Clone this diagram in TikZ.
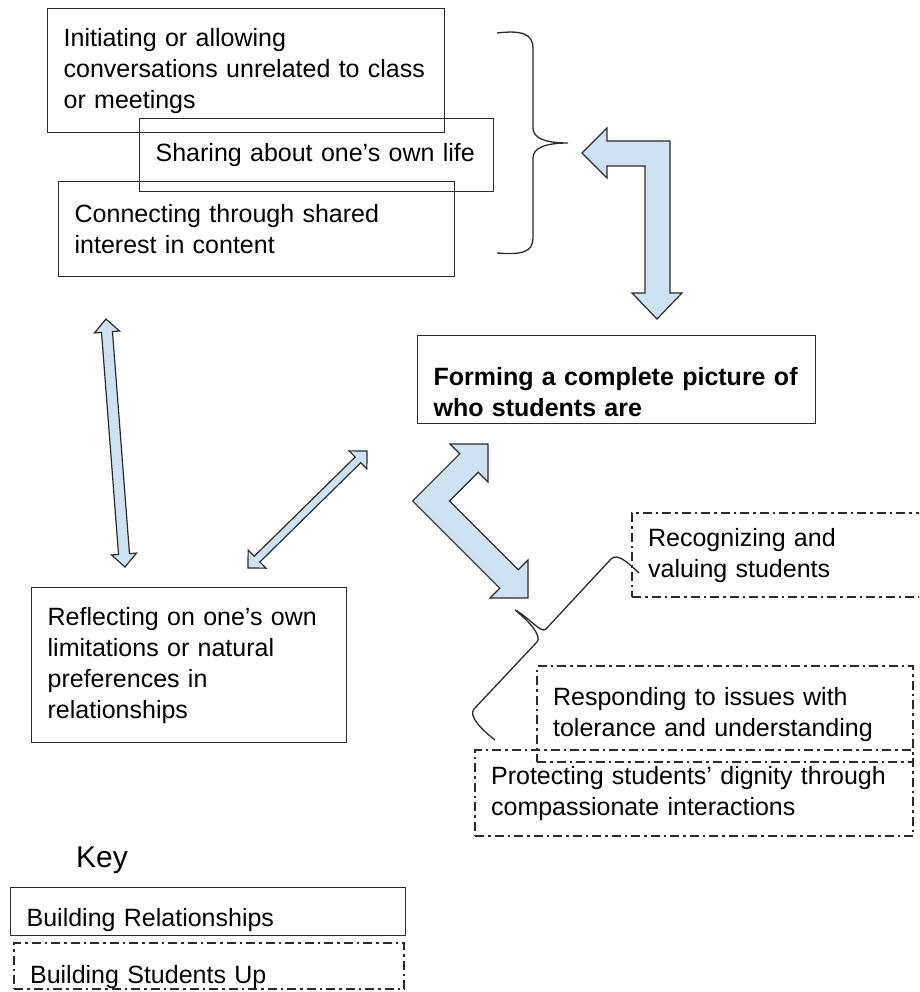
\documentclass[tikz,border=0pt]{standalone}
\usepackage{fontspec}
\setmainfont{Liberation Sans}
\usetikzlibrary{calc}

\definecolor{arrowblue}{HTML}{CFE2F3}
\definecolor{linegray}{HTML}{2B2B2B}

\newcommand{\dblarrow}[5]{% from, to, half shaft, head length, half head
	\filldraw[blockarrow] (#1)
		-- ($(#1)!#4!(#2)!#5!90:(#2)$) -- ($(#1)!#4!(#2)!#3!90:(#2)$)
		-- ($(#2)!#4!(#1)!#3!-90:(#1)$) -- ($(#2)!#4!(#1)!#5!-90:(#1)$)
		-- (#2)
		-- ($(#2)!#4!(#1)!#5!90:(#1)$) -- ($(#2)!#4!(#1)!#3!90:(#1)$)
		-- ($(#1)!#4!(#2)!#3!-90:(#2)$) -- ($(#1)!#4!(#2)!#5!-90:(#2)$) -- cycle;}

\begin{document}
\begin{tikzpicture}[x=1pt,y=-1pt,
	box/.style={anchor=north west, align=left, inner xsep=16pt, inner ysep=4pt,
		font=\fontsize{25}{31}\selectfont, draw=linegray, line width=1.3pt},
	relbox/.style={box},
	upbox/.style={box, line width=2.2pt, dash pattern=on 9pt off 4pt on 2.5pt off 4pt},
	blockarrow/.style={fill=arrowblue, draw=linegray, line width=1.2pt, line join=miter},
	bracket/.style={draw=linegray, line width=1.3pt}]
	\clip (0,0) rectangle (919,992);

	% top group
	\node[relbox, text width=365pt, minimum height=124pt] (initiate) at (47,8)
		{Initiating or allowing\\conversations unrelated to class\\or meetings};
	\node[relbox, text width=322pt, minimum height=73pt] (share) at (139,118)
		{Sharing about one’s own life};
	\node[relbox, text width=364pt, minimum height=95pt] (connect) at (58,181)
		{Connecting through shared\\interest in content};

	\draw[bracket] (497,33) .. controls (522,30) and (533,34) .. (533,48) -- (533,128)
		.. controls (533,138) and (545,143) .. (568,143)
		.. controls (545,143) and (533,148) .. (533,158) -- (533,238)
		.. controls (533,252) and (522,255) .. (497,253);

	\filldraw[blockarrow] (582,153) -- (607,128) -- (607,141) -- (670,141) -- (670,293)
		-- (682,293) -- (657,319) -- (632,293) -- (645,293) -- (645,166)
		-- (607,166) -- (607,178) -- cycle;

	% centre
	\node[relbox, text width=366pt, minimum height=88pt, text height=43pt,
		font=\fontsize{25}{31}\selectfont\bfseries] (picture) at (417,335)
		{Forming a complete picture of\\who students are};

	\node[relbox, text width=283pt, minimum height=155pt] (reflect) at (31,587)
		{Reflecting on one’s own\\limitations or natural\\preferences in\\relationships};

	\coordinate (vtop) at (106,319);
	\coordinate (vbot) at (125,567);
	\dblarrow{vtop}{vbot}{5.5pt}{13pt}{12.5pt}

	\coordinate (dlow) at (248,568);
	\coordinate (dhigh) at (367,451);
	\dblarrow{dlow}{dhigh}{4pt}{12.7pt}{12.7pt}

	\filldraw[blockarrow] (488,444) -- (488,482) -- (478.2,472.2) -- (449.4,501)
		-- (518.2,569.8) -- (528,560) -- (528,598) -- (490,598) -- (499.8,588.2)
		-- (412.6,501) -- (459.8,453.8) -- (450,444) -- cycle;

	% right group
	\node[upbox, text width=277pt, minimum height=84pt] (recognize) at (631,512)
		{Recognizing and\\valuing students};
	\node[upbox, text width=344pt, minimum height=96pt] (respond) at (536,665)
		{Responding to issues with\\tolerance and understanding};
	\node[upbox, text width=406pt, minimum height=86pt] (protect) at (474,749)
		{Protecting students’ dignity through\\compassionate interactions};

	\draw[bracket] (639,573) .. controls (630,565) and (618,552) .. (611,559) -- (546,629)
		.. controls (541,634) and (530,618) .. (515,610)
		.. controls (530,622) and (542,636) .. (537,642) -- (474,709)
		.. controls (468,716) and (482,730) .. (495,740);

	% key
	\node[font=\fontsize{30}{36}\selectfont] (key) at (102,860) {Key};
	\node[relbox, text width=363pt, minimum height=48pt, text height=30pt, text depth=0pt]
		(keyrel) at (10,887) {Building Relationships};
	\node[upbox, text width=358pt, minimum height=46pt, text height=34pt, text depth=0pt]
		(keyup) at (13,942) {Building Students Up};
\end{tikzpicture}
\end{document}
